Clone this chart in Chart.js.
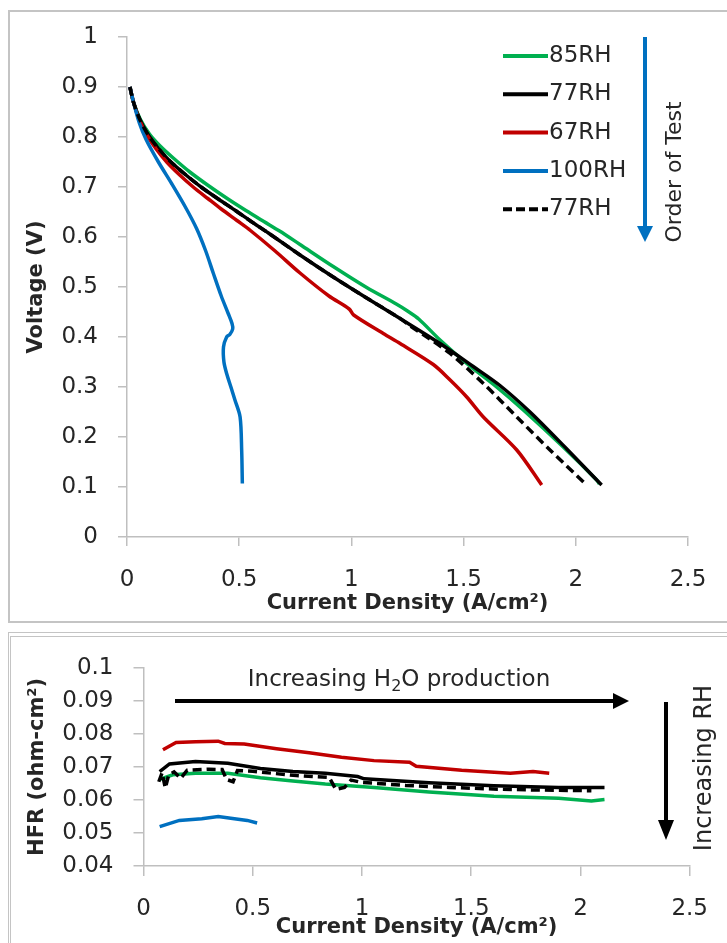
<!DOCTYPE html>
<html>
<head>
<meta charset="utf-8">
<script src="https://cdn.jsdelivr.net/npm/chart.js@4.4.1/dist/chart.umd.min.js"></script>
<style>
  body { margin: 0; background: #fff; width: 727px; height: 943px; overflow: hidden; position: relative; }
  .frame { position: absolute; border: 2px solid #c4c4c4; box-sizing: border-box; }
  canvas { position: absolute; left: 0; }
</style>
</head>
<body>
<div class="frame" style="left:8px;top:10px;width:740px;height:613px"></div>
<div class="frame" style="left:8px;top:632px;width:740px;height:330px;border-width:1.5px"></div>
<div class="frame" style="left:10px;top:636px;width:740px;height:330px;border-width:1.5px"></div>
<canvas id="ivChart" width="727" height="628" style="top:0"></canvas>
<canvas id="hfrChart" width="727" height="309" style="top:634px"></canvas>
<script>
const FONT = '"DejaVu Sans", sans-serif';
const TEXT = '#262626';
const AXIS = '#bfbfbf';

const seriesNames = ['85RH', '77RH', '67RH', '100RH', '77RH'];
const seriesColors = ['#00b050', '#000000', '#c00000', '#0070c0', '#000000'];
const seriesDashed = [false, false, false, false, true];

const currentTicks = [0, 0.5, 1, 1.5, 2, 2.5];
const voltTicks = [0, 0.1, 0.2, 0.3, 0.4, 0.5, 0.6, 0.7, 0.8, 0.9, 1];
const hfrTicks = [0.04, 0.05, 0.06, 0.07, 0.08, 0.09, 0.1];

// polarisation curves (A/cm2, V)
const cd85 = [0.013, 0.03, 0.06, 0.1, 0.15, 0.206, 0.28, 0.362, 0.45, 0.53, 0.61, 0.68, 0.771, 0.919, 1.068, 1.2, 1.25, 1.3, 1.395, 1.514, 1.647, 1.766, 1.944, 2.093, 2.105];
const v85 = [0.9, 0.868, 0.835, 0.806, 0.781, 0.758, 0.73, 0.703, 0.676, 0.653, 0.631, 0.612, 0.585, 0.541, 0.499, 0.466, 0.452, 0.436, 0.394, 0.347, 0.3, 0.254, 0.18, 0.114, 0.106];
const cd77 = [0.013, 0.03, 0.058, 0.095, 0.14, 0.191, 0.26, 0.333, 0.41, 0.48, 0.55, 0.63, 0.771, 0.919, 1.068, 1.217, 1.395, 1.543, 1.662, 1.796, 1.96, 2.115];
const v77 = [0.9, 0.868, 0.834, 0.804, 0.777, 0.752, 0.725, 0.699, 0.675, 0.654, 0.632, 0.608, 0.564, 0.52, 0.478, 0.437, 0.387, 0.341, 0.303, 0.25, 0.176, 0.104];
const cd67 = [0.013, 0.03, 0.055, 0.09, 0.13, 0.177, 0.235, 0.295, 0.36, 0.42, 0.49, 0.55, 0.66, 0.771, 0.9, 0.99, 1.01, 1.142, 1.217, 1.365, 1.44, 1.514, 1.588, 1.737, 1.848];
const v67 = [0.9, 0.868, 0.834, 0.803, 0.776, 0.75, 0.724, 0.7, 0.677, 0.656, 0.633, 0.613, 0.572, 0.528, 0.482, 0.456, 0.444, 0.407, 0.387, 0.345, 0.314, 0.28, 0.24, 0.174, 0.104];
const cd100 = [0.013, 0.03, 0.055, 0.085, 0.14, 0.2, 0.26, 0.31, 0.35, 0.385, 0.42, 0.451, 0.468, 0.471, 0.458, 0.444, 0.43, 0.432, 0.444, 0.463, 0.481, 0.504, 0.511, 0.514];
const v100 = [0.9, 0.868, 0.828, 0.795, 0.75, 0.706, 0.66, 0.617, 0.573, 0.527, 0.482, 0.447, 0.427, 0.416, 0.405, 0.4, 0.38, 0.35, 0.327, 0.3, 0.274, 0.24, 0.174, 0.107];
const cd77b = [0.013, 0.03, 0.058, 0.095, 0.14, 0.191, 0.26, 0.333, 0.41, 0.48, 0.55, 0.63, 0.771, 0.919, 1.068, 1.217, 1.26, 1.44, 1.588, 1.737, 1.885, 2.041];
const v77b = [0.9, 0.868, 0.834, 0.804, 0.777, 0.752, 0.725, 0.699, 0.675, 0.654, 0.632, 0.608, 0.564, 0.52, 0.478, 0.437, 0.423, 0.367, 0.307, 0.24, 0.174, 0.107];

// HFR (ohm-cm2) vs current density
const hcd85 = [0.074, 0.134, 0.238, 0.386, 0.535, 0.684, 0.832, 1.055, 1.307, 1.604, 1.9, 2.05, 2.11];
const hfr85 = [0.0662, 0.0676, 0.0681, 0.0681, 0.0667, 0.0657, 0.0648, 0.0638, 0.0624, 0.0611, 0.0605, 0.0597, 0.0601];
const hcd77 = [0.074, 0.119, 0.238, 0.386, 0.535, 0.684, 0.832, 0.98, 1.01, 1.307, 1.604, 1.9, 2.11];
const hfr77 = [0.0686, 0.0709, 0.0716, 0.0711, 0.0695, 0.0686, 0.0681, 0.0671, 0.0664, 0.0652, 0.0643, 0.0638, 0.0638];
const hcd67 = [0.089, 0.149, 0.238, 0.342, 0.372, 0.461, 0.609, 0.758, 0.906, 1.055, 1.218, 1.248, 1.456, 1.679, 1.783, 1.857];
const hfr67 = [0.0752, 0.0774, 0.0776, 0.0778, 0.0771, 0.0769, 0.0755, 0.0743, 0.0729, 0.0719, 0.0714, 0.0702, 0.069, 0.0681, 0.0686, 0.0681];
const hcd100 = [0.074, 0.164, 0.267, 0.342, 0.416, 0.475, 0.52];
const hfr100 = [0.0519, 0.0538, 0.0543, 0.055, 0.0543, 0.0538, 0.053];
const hcd77b = [0.07, 0.085, 0.1, 0.115, 0.14, 0.17, 0.2, 0.3, 0.36, 0.38, 0.41, 0.43, 0.5, 0.6, 0.7, 0.85, 0.88, 0.92, 0.95, 1.0, 1.2, 1.4, 1.6, 1.8, 2.05];
const hfr77b = [0.0655, 0.0682, 0.0636, 0.0675, 0.0685, 0.0665, 0.069, 0.0693, 0.0692, 0.0662, 0.0655, 0.0689, 0.0687, 0.068, 0.0674, 0.0668, 0.0632, 0.0638, 0.066, 0.0653, 0.0644, 0.0638, 0.0633, 0.063, 0.0628];

const ivX = [cd85, cd77, cd67, cd100, cd77b];
const ivY = [v85, v77, v67, v100, v77b];
const hfrX = [hcd85, hcd77, hcd67, hcd100, hcd77b];
const hfrY = [hfr85, hfr77, hfr67, hfr100, hfr77b];

function makeSets(xs, ys, tension) {
    return seriesNames.map((name, i) => ({
        label: name,
        data: xs[i].map((x, k) => ({ x: x, y: ys[i][k] })),
        borderColor: seriesColors[i],
        borderWidth: 3.5,
        borderDash: seriesDashed[i] ? [9, 5] : [],
        pointRadius: 0,
        showLine: true,
        tension: tension,
        order: seriesNames.length - i,
    }));
}

function axis(ticks, min, max, opts) {
    return {
        type: 'linear',
        min: min,
        max: max,
        afterBuildTicks: (scale) => { scale.ticks = ticks.map((v) => ({ value: v })); },
        afterFit: opts.fit,
        border: { color: AXIS, width: 1.5 },
        grid: { drawOnChartArea: false, drawTicks: true, tickLength: opts.tick, color: AXIS, lineWidth: 1.5 },
        ticks: {
            padding: opts.pad,
            color: TEXT,
            font: { family: FONT, size: 23 },
            callback: (v) => String(+v.toFixed(3)),
        },
        title: {
            display: true,
            text: opts.title,
            color: TEXT,
            font: { family: FONT, size: 21, weight: 'bold' },
            padding: opts.titlePad,
        },
    };
}

function arrow(ctx, x1, y1, x2, y2, color, head) {
    const a = Math.atan2(y2 - y1, x2 - x1);
    ctx.strokeStyle = color;
    ctx.fillStyle = color;
    ctx.lineWidth = 4;
    ctx.beginPath();
    ctx.moveTo(x1, y1);
    ctx.lineTo(x2 - Math.cos(a) * head, y2 - Math.sin(a) * head);
    ctx.stroke();
    ctx.beginPath();
    ctx.moveTo(x2, y2);
    ctx.lineTo(x2 - Math.cos(a) * head - Math.sin(a) * 8, y2 - Math.sin(a) * head + Math.cos(a) * 8);
    ctx.lineTo(x2 - Math.cos(a) * head + Math.sin(a) * 8, y2 - Math.sin(a) * head - Math.cos(a) * 8);
    ctx.closePath();
    ctx.fill();
}

function rotatedText(ctx, text, x, y, size) {
    ctx.save();
    ctx.translate(x, y);
    ctx.rotate(-Math.PI / 2);
    ctx.font = size + 'px ' + FONT;
    ctx.fillStyle = TEXT;
    ctx.textAlign = 'center';
    ctx.textBaseline = 'middle';
    ctx.fillText(text, 0, 0);
    ctx.restore();
}

// legend + "Order of Test" arrow
const ivNotes = {
    id: 'ivNotes',
    afterDraw(chart) {
        const ctx = chart.ctx;
        ctx.save();
        chart.data.datasets.forEach((ds, i) => {
            const y = 56 + i * 38.3;
            ctx.strokeStyle = ds.borderColor;
            ctx.lineWidth = 4;
            ctx.setLineDash(seriesDashed[i] ? [9, 4] : []);
            ctx.beginPath();
            ctx.moveTo(503, y);
            ctx.lineTo(548, y);
            ctx.stroke();
            ctx.setLineDash([]);
            ctx.fillStyle = TEXT;
            ctx.font = '23px ' + FONT;
            ctx.textBaseline = 'middle';
            ctx.fillText(ds.label, 549, y);
        });
        arrow(ctx, 645, 37, 645, 242, '#0070c0', 16);
        rotatedText(ctx, 'Order of Test', 675, 172, 22);
        ctx.restore();
    }
};

// "Increasing H2O production" / "Increasing RH" arrows
const hfrNotes = {
    id: 'hfrNotes',
    afterDraw(chart) {
        const ctx = chart.ctx;
        ctx.save();
        ctx.font = '23px ' + FONT;
        ctx.fillStyle = TEXT;
        ctx.textBaseline = 'alphabetic';
        const a = 'Increasing H', b = '2', c = 'O production';
        const wa = ctx.measureText(a).width, wc = ctx.measureText(c).width;
        ctx.font = '16px ' + FONT;
        const wb = ctx.measureText(b).width;
        let x = 399 - (wa + wb + wc) / 2;
        const base = 52;
        ctx.font = '23px ' + FONT;
        ctx.fillText(a, x, base);
        ctx.font = '16px ' + FONT;
        ctx.fillText(b, x + wa, base + 5);
        ctx.font = '23px ' + FONT;
        ctx.fillText(c, x + wa + wb, base);
        arrow(ctx, 175, 67, 629, 67, '#000000', 16);
        arrow(ctx, 666, 68, 666, 206, '#000000', 20);
        rotatedText(ctx, 'Increasing RH', 705, 134, 24);
        ctx.restore();
    }
};

new Chart(document.getElementById('ivChart').getContext('2d'), {
    type: 'scatter',
    data: { datasets: makeSets(ivX, ivY, 0.3) },
    plugins: [ivNotes],
    options: {
        responsive: false,
        animation: false,
        layout: { padding: { left: 0, top: 37, right: 39, bottom: 12 } },
        plugins: { legend: { display: false }, tooltip: { enabled: false } },
        scales: {
            x: axis(currentTicks, 0, 2.5, {
                title: 'Current Density (A/cm²)', tick: 9, pad: 20, titlePad: { top: 0, bottom: 0 },
                fit: (s) => { s.height = 79; },
            }),
            y: axis(voltTicks, 0, 1, {
                title: 'Voltage (V)', tick: 9, pad: 20, titlePad: { top: 24, bottom: 0 },
                fit: (s) => { s.width = 127; },
            }),
        },
    },
});

new Chart(document.getElementById('hfrChart').getContext('2d'), {
    type: 'scatter',
    data: { datasets: makeSets(hfrX, hfrY, 0) },
    plugins: [hfrNotes],
    options: {
        responsive: false,
        animation: false,
        layout: { padding: { left: 0, top: 21, right: 23, bottom: 0 } },
        plugins: { legend: { display: false }, tooltip: { enabled: false } },
        scales: {
            x: axis(currentTicks, 0, 2.5, {
                title: 'Current Density (A/cm²)', tick: 10, pad: 19, titlePad: { top: 0, bottom: 3 },
                fit: (s) => { s.height = 77; },
            }),
            y: axis(hfrTicks, 0.04, 0.1, {
                title: 'HFR (ohm-cm²)', tick: 10, pad: 20, titlePad: { top: 25, bottom: 0 },
                fit: (s) => { s.width = 143.5; },
            }),
        },
    },
});
</script>
</body>
</html>
